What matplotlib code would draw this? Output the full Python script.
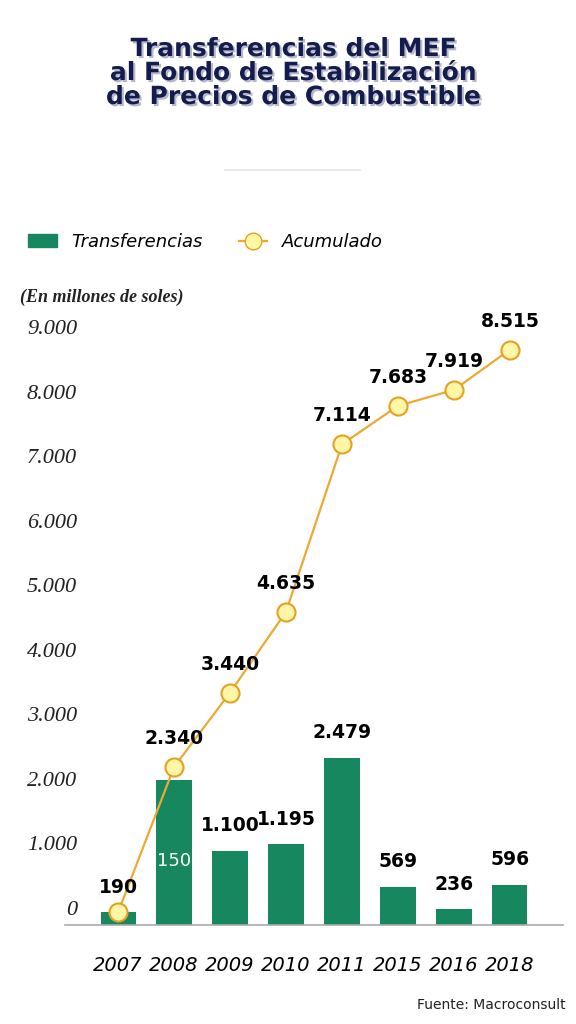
import matplotlib
matplotlib.use("Agg")
import matplotlib.pyplot as plt
import matplotlib.transforms as mtrans
import matplotlib.patheffects as pe
from matplotlib.lines import Line2D
from matplotlib.patches import Patch

years = ["2007", "2008", "2009", "2010", "2011", "2015", "2016", "2018"]
transfer = [190, 2150, 1100, 1195, 2479, 569, 236, 596]
transfer_lbl = ["190", "150", "1.100", "1.195", "2.479", "569", "236", "596"]
acum = [190, 2340, 3440, 4635, 7114, 7683, 7919, 8515]
acum_lbl = ["", "2.340", "3.440", "4.635", "7.114", "7.683", "7.919", "8.515"]
yticks = [0, 1000, 2000, 3000, 4000, 5000, 6000, 7000, 8000, 9000]
ytick_lbl = ["0", "1.000", "2.000", "3.000", "4.000", "5.000", "6.000", "7.000", "8.000", "9.000"]

GREEN = "#16875f"
ORANGE = "#eca936"
NAVY = "#141b4d"

fig = plt.figure(figsize=(5.76, 10.24), dpi=100)
ax = fig.add_axes([65 / 576, 1 - 925 / 1024, 498 / 576, 625 / 1024])
x = list(range(len(years)))

ax.bar(x, transfer, width=0.63, color=GREEN, zorder=2)
ax.plot(x, acum, color=ORANGE, lw=1.6, zorder=3, marker="o", ms=13,
        mfc="#fff6a8", mec="#e8a020", mew=1.5)

ax.set_xlim(-0.95, 7.95)
ax.set_ylim(0, 9250)
for s in ["top", "right", "left"]:
    ax.spines[s].set_visible(False)
ax.spines["bottom"].set_color("#aaaaaa")
ax.spines["bottom"].set_linewidth(1.2)
ax.set_yticks([])
ax.set_xticks(x)
ax.set_xticklabels(years, fontsize=14, style="italic", fontweight="medium")
ax.tick_params(axis="x", length=0, pad=22)

# y labels sit slightly above the grid value, drawn as text
trans = mtrans.blended_transform_factory(fig.transFigure, ax.transData)
for v, lbl in zip(yticks, ytick_lbl):
    ax.text(77 / 576, v * 0.954 + 220, lbl, transform=trans, ha="right",
            va="center", fontsize=16, style="italic", family="Liberation Serif",
            color="#222222")

for i, (v, lbl) in enumerate(zip(transfer, transfer_lbl)):
    if i == 1:
        ax.text(i, 950, lbl, ha="center", va="center", fontsize=13,
                color="white", zorder=4)
    else:
        ax.text(i, v + 230, lbl, ha="center", va="bottom", fontsize=13.5,
                fontweight="heavy", zorder=4)
for i, (v, lbl) in enumerate(zip(acum, acum_lbl)):
    if lbl:
        ax.text(i, v + 280, lbl, ha="center", va="bottom", fontsize=13.5,
                fontweight="heavy", zorder=4)

fig.text(0.51, 1 - 73 / 1024, "Transferencias del MEF\nal Fondo de Estabilización\nde Precios de Combustible",
         ha="center", va="center", fontsize=18, fontweight="heavy", color=NAVY,
         linespacing=1.0,
         path_effects=[pe.withSimplePatchShadow(offset=(1.5, -1.5), shadow_rgbFace="#8888aa", alpha=0.6)])
fig.add_artist(Line2D([225 / 576, 360 / 576], [1 - 170 / 1024] * 2,
                      color="#e4e4e4", lw=1.2, transform=fig.transFigure))

handles = [Patch(color=GREEN),
           Line2D([], [], color=ORANGE, lw=1.6, marker="o", ms=12,
                  mfc="#fff6a8", mec="#e8a020")]
fig.legend(handles, ["Transferencias", "Acumulado"], loc="center left",
           bbox_to_anchor=(0.02, 1 - 242 / 1024), ncol=2, frameon=False,
           prop={"size": 13, "style": "italic"}, handlelength=1.6,
           columnspacing=2.0)

fig.text(20 / 576, 1 - 297 / 1024, "(En millones de soles)", fontsize=13,
         style="italic", fontweight="bold", family="Liberation Serif",
         va="center", color="#222222")
fig.text(566 / 576, 1 - 1005 / 1024, "Fuente: Macroconsult", fontsize=10,
         ha="right", va="center", color="#222222")

fig.savefig("out.png", dpi=100)
